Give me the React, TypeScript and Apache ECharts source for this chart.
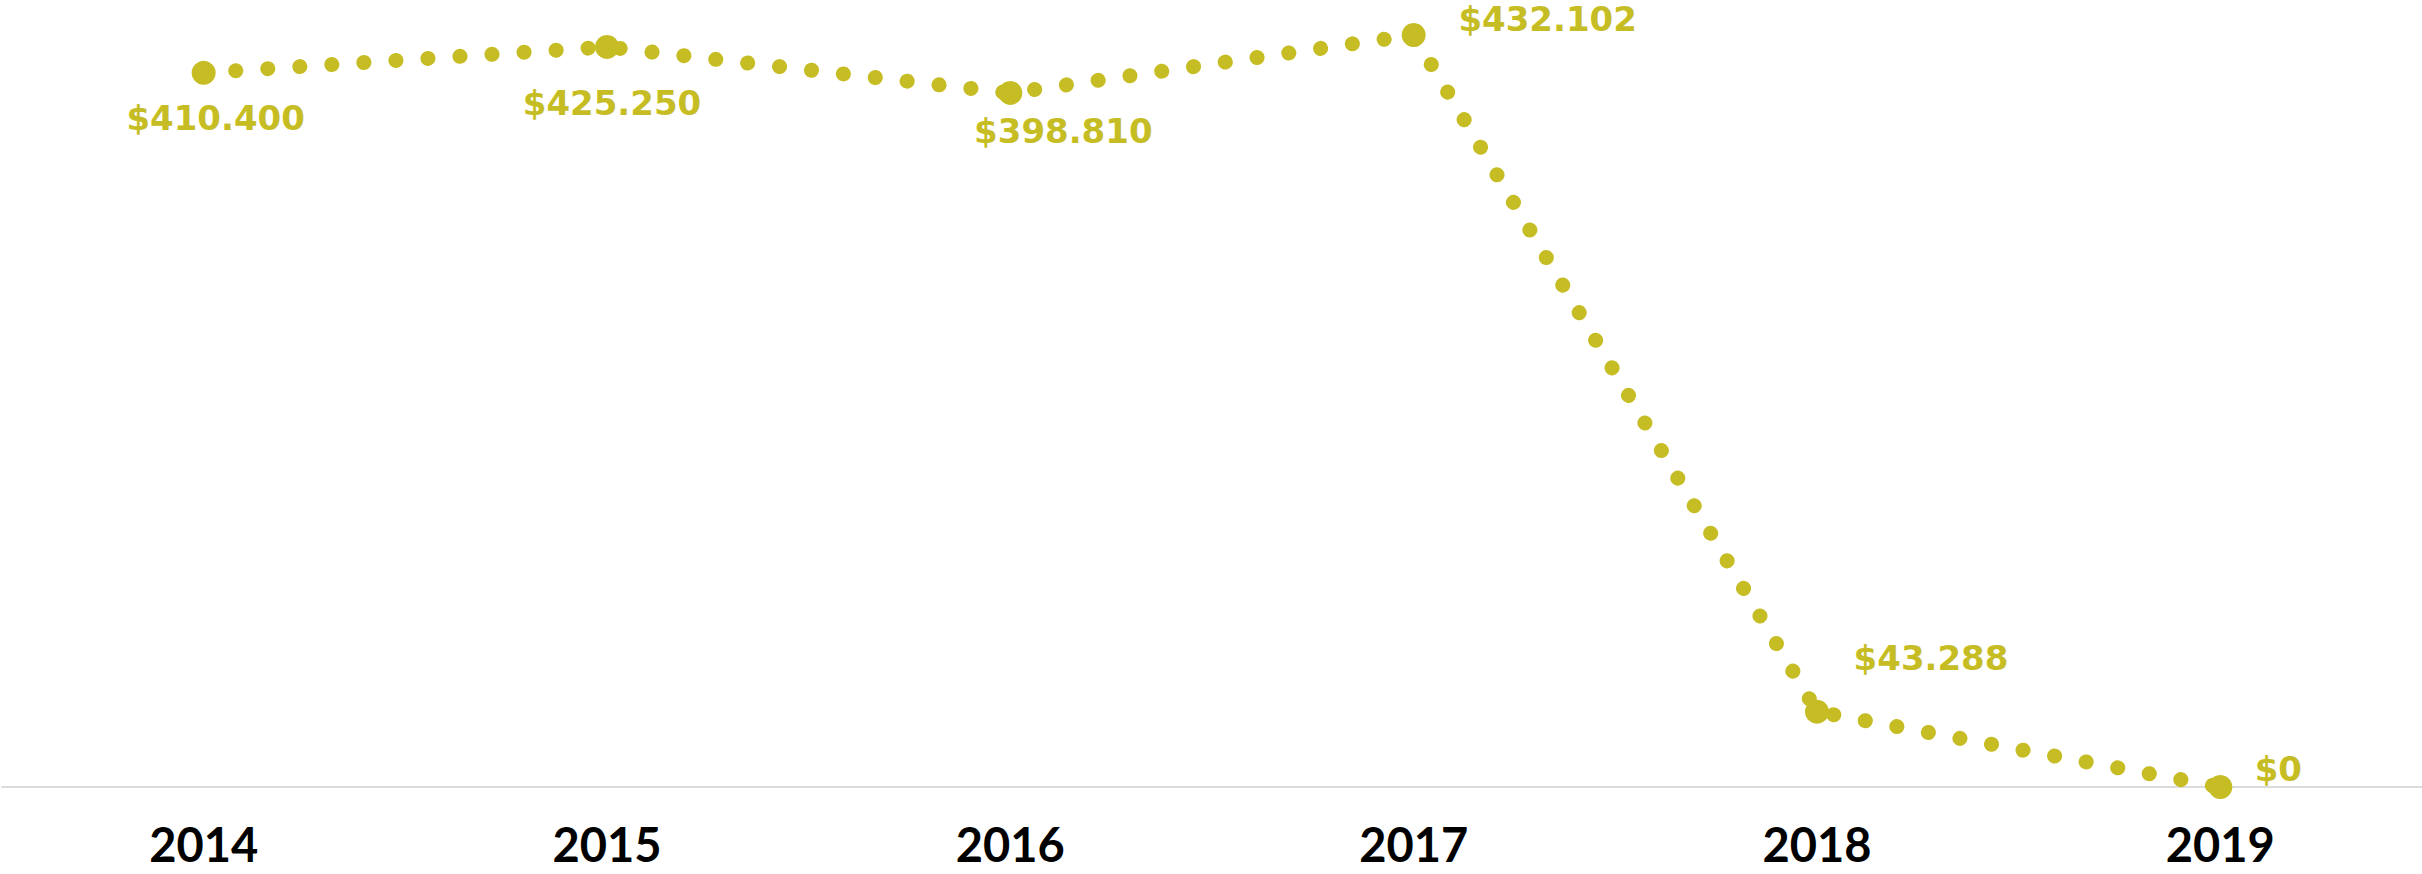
import React, { useEffect, useRef } from "react";
import * as echarts from "echarts";

const years = ["2014", "2015", "2016", "2017", "2018", "2019"];
const amounts = [410400, 425250, 398810, 432102, 43288, 0];
// label offsets (dx, dy) relative to each point
const labelOffsets = [
  [12, 45],
  [5, 56],
  [53, 38],
  [134, -16],
  [114, -54],
  [58, -18],
];

const GOLD = "#C6BD24";

function fmt(v: number): string {
  const s = Math.round(v).toString();
  return "$" + s.replace(/\B(?=(\d{3})+(?!\d))/g, ".");
}

export default function App() {
  const ref = useRef<HTMLDivElement>(null);
  useEffect(() => {
    document.body.style.margin = "0";
    if (!ref.current) return;
    const chart = echarts.init(ref.current, undefined, { renderer: "svg" });
    const data = amounts.map((v, i) => ({
      value: v,
      label: {
        offset: labelOffsets[i],
      },
    }));
    chart.setOption({
      animation: false,
      backgroundColor: "#ffffff",
      grid: { left: 2, right: -4, top: 35, bottom: 87, containLabel: false },
      xAxis: {
        type: "category",
        data: years,
        boundaryGap: true,
        axisLine: { show: true, lineStyle: { color: "#dcdcdc", width: 2 } },
        axisTick: { show: false },
        axisLabel: {
          color: "#000000",
          fontFamily: "Lato",
          fontWeight: "bold",
          fontSize: 47,
          lineHeight: 38,
          margin: 38,
        },
        splitLine: { show: false },
      },
      yAxis: {
        type: "value",
        min: 0,
        max: "dataMax",
        show: false,
        splitLine: { show: false },
      },
      series: [
        {
          type: "line",
          data,
          smooth: false,
          symbol: "circle",
          symbolSize: 24,
          itemStyle: { color: GOLD },
          lineStyle: {
            color: GOLD,
            width: 15,
            type: [0.1, 32],
            cap: "round",
            join: "round",
          },
          label: {
            show: true,
            position: "inside",
            align: "center",
            verticalAlign: "middle",
            color: GOLD,
            fontFamily: "DejaVu Sans",
            fontWeight: "bold",
            fontSize: 34,
            formatter: (p: any) => fmt(p.value),
          },
          z: 3,
        },
      ],
    });
    return () => chart.dispose();
  }, []);
  return (
    <div
      ref={ref}
      style={{ position: "fixed", left: 0, top: 0, width: 2422, height: 874 }}
    />
  );
}
